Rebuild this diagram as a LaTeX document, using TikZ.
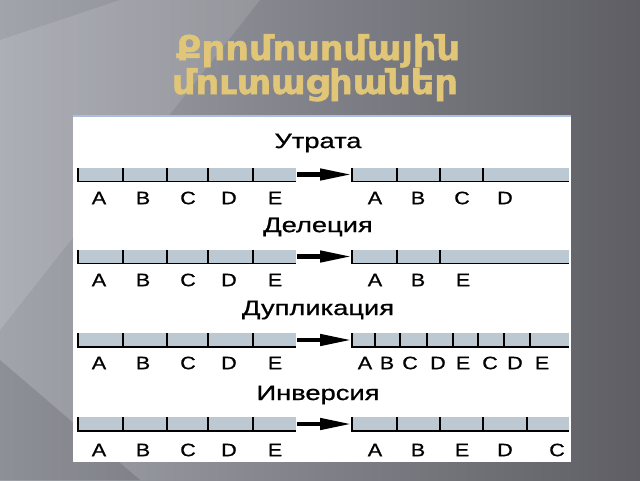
\documentclass[tikz,border=0pt]{standalone}
\usepackage{fontspec}
\setmainfont{Liberation Sans}
\newfontfamily\armfont[FakeBold=1.6]{DejaVu Sans Bold}
\newfontfamily\labfont[FakeBold=0.7]{Liberation Sans}
\usetikzlibrary{arrows.meta, positioning}

\definecolor{bgleft}{RGB}{162,164,172}
\definecolor{bgright}{RGB}{94,94,100}
\definecolor{titlegold}{RGB}{224,198,118}
\definecolor{barfill}{RGB}{188,200,210}
\definecolor{panelrim}{RGB}{170,190,222}

\tikzset{
  chrom/.style = {fill = barfill, inner sep = 0, outer sep = 0, minimum height = 14pt},
  tick/.style = {line width = 1.2pt},
  base/.style = {line width = 1.8pt},
  gene/.style = {font = \labfont\fontsize{18}{18}\selectfont, inner sep = 0, xscale = 1.2},
  kind/.style = {font = \labfont\fontsize{21}{21}\selectfont, inner sep = 0, xscale = 1.3},
  headline/.style = {anchor = base, text = titlegold, xscale = 1.08, font = \armfont\fontsize{34}{34}\selectfont},
  arr/.style = {-{Triangle[length = 32pt, width = 11pt]}, line width = 4.5pt, shorten >= 0pt, shorten <= 1pt}
}

\begin{document}
\begin{tikzpicture}[x = 1pt, y = -1pt]
  \useasboundingbox (0,0) rectangle (640,480);
  % background
  \shade[left color = bgleft, right color = bgright] (0,0) rectangle (640,480);
  \fill[white, opacity = .12] (0,40) -- (120,0) -- (260,0) -- (0,330) -- cycle;
  \fill[black, opacity = .12] (0,360) -- (140,480) -- (0,480) -- cycle;

  % title
  \node[headline] (title1) at (318,60) {Քրոմոսոմային};
  \node[headline] (title2) at (315,94) {մուտացիաներ};

  % panel
  \fill[white] (73,115) rectangle (571,462);
  \draw[panelrim, line width = 2pt] (73,116) -- (571,116);

  % row 1
  \node[kind] (k1) at (318,143) {Утрата};
  \node[chrom, minimum width = 218pt] (l1) at (187,174.5) {};
  \node[chrom, minimum width = 217pt] (r1) at (460.5,174.5) {};
  \draw[base] (l1.south west) -- (l1.south east);
  \draw[base] (r1.south west) -- (r1.south east);
  \foreach \x in {78,123,167,208,253} \draw[tick] (\x,167.5) -- (\x,182);
  \foreach \x in {352,397,440,483} \draw[tick] (\x,167.5) -- (\x,182);
  \foreach \g/\x in {A/99,B/143,C/188,D/229,E/275,A/375,B/418,C/462,D/505}
    \node[gene] at (\x,198) {\g};
  \draw[arr] (l1.east) -- (r1.west);

  % row 2
  \node[kind] (k2) at (318,227) {Делеция};
  \node[chrom, minimum width = 218pt] (l2) at (187,256.5) {};
  \node[chrom, minimum width = 217pt] (r2) at (460.5,256.5) {};
  \draw[base] (l2.south west) -- (l2.south east);
  \draw[base] (r2.south west) -- (r2.south east);
  \foreach \x in {78,123,167,208,253} \draw[tick] (\x,249.5) -- (\x,264);
  \foreach \x in {352,397,440} \draw[tick] (\x,249.5) -- (\x,264);
  \foreach \g/\x in {A/99,B/143,C/188,D/229,E/275,A/375,B/418,E/463}
    \node[gene] at (\x,280) {\g};
  \draw[arr] (l2.east) -- (r2.west);

  % row 3
  \node[kind] (k3) at (318,310) {Дупликация};
  \node[chrom, minimum width = 218pt] (l3) at (187,340) {};
  \node[chrom, minimum width = 217pt] (r3) at (460.5,340) {};
  \draw[base] (l3.south west) -- (l3.south east);
  \draw[base] (r3.south west) -- (r3.south east);
  \foreach \x in {78,123,167,208,253} \draw[tick] (\x,333) -- (\x,347.5);
  \foreach \x in {352,375,400,427,453,478,504,530} \draw[tick] (\x,333) -- (\x,347.5);
  \foreach \g/\x in {A/99,B/143,C/188,D/229,E/275,A/365,B/387,C/410,D/438,E/463,C/490,D/515,E/542}
    \node[gene] at (\x,363) {\g};
  \draw[arr] (l3.east) -- (r3.west);

  % row 4
  \node[kind] (k4) at (318,395) {Инверсия};
  \node[chrom, minimum width = 218pt] (l4) at (187,424) {};
  \node[chrom, minimum width = 217pt] (r4) at (460.5,424) {};
  \draw[base] (l4.south west) -- (l4.south east);
  \draw[base] (r4.south west) -- (r4.south east);
  \foreach \x in {78,123,167,208,253} \draw[tick] (\x,417) -- (\x,431.5);
  \foreach \x in {352,397,440,483,527} \draw[tick] (\x,417) -- (\x,431.5);
  \foreach \g/\x in {A/99,B/143,C/188,D/229,E/275,A/375,B/418,E/462,D/505,C/557}
    \node[gene] at (\x,450) {\g};
  \draw[arr] (l4.east) -- (r4.west);
\end{tikzpicture}
\end{document}
